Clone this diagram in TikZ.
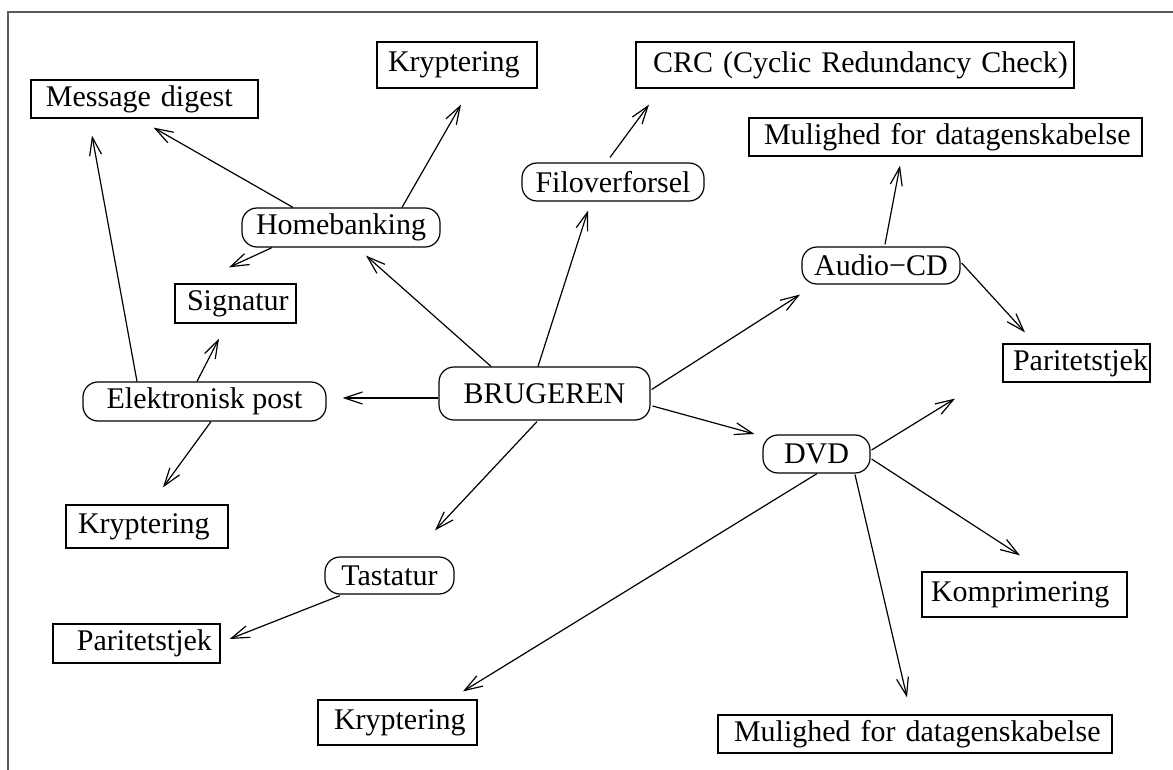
\documentclass[tikz,border=0pt]{standalone}
\usepackage{fontspec}
\setmainfont{Liberation Serif}
\usetikzlibrary{arrows.meta}
\begin{document}
\begin{tikzpicture}[x=0.5pt,y=-0.5pt,
  every node/.style={font=\fontsize{15}{18}\selectfont},
  bx/.style n args={3}{draw, line width=0.6pt, rectangle, inner sep=0pt, minimum height=#2, text width=#1, align=left, execute at begin node={\noindent\hspace*{#3}}},
  rb/.style n args={2}{draw, line width=0.6pt, rounded corners=7.5pt, inner sep=0pt, minimum width=#1, minimum height=#2},
  arr/.style={line width=0.6pt, -{Straight Barb[length=9pt,width=6pt]}},
  frame/.style={draw=black!65, line width=1pt}]
\useasboundingbox (0,0) rectangle (1173,770);
\draw[frame] (8,770) -- (8,12) -- (1173,12);

% rectangular boxes
\node[bx={113.5pt}{19pt}{7.5pt}] (md) at (144.5,99) {Message digest};
\node[bx={80pt}{23pt}{5.5pt}] (kr1) at (457,65) {Kryptering};
\node[bx={219pt}{23pt}{8.5pt}] (crc) at (855,65) {CRC (Cyclic Redundancy Check)};
\node[bx={196.5pt}{19pt}{7.5pt}] (mul1) at (945.5,137) {Mulighed for datagenskabelse};
\node[bx={60.5pt}{19.5pt}{6pt}] (sig) at (235.5,303.5) {Signatur};
\node[bx={73.5pt}{19pt}{5pt}] (par1) at (1076.5,363) {Paritetstjek};
\node[bx={81pt}{21.5pt}{6pt}] (kr2) at (147,526.5) {Kryptering};
\node[bx={83.5pt}{19.5pt}{12pt}] (par2) at (136.5,643.5) {Paritetstjek};
\node[bx={79.5pt}{22.5pt}{8pt}] (kr3) at (397.5,722.5) {Kryptering};
\node[bx={102.5pt}{22.5pt}{4.5pt}] (kom) at (1024.5,594.5) {Komprimering};
\node[bx={197pt}{19pt}{8pt}] (mul2) at (915,734) {Mulighed for datagenskabelse};

% rounded nodes
\node[rb={105.5pt}{26.5pt}] (brug) at (544.5,393.5) {BRUGEREN};
\node[rb={99pt}{19.5pt}] (hb) at (341,227.5) {Homebanking};
\node[rb={91pt}{19pt}] (fil) at (613,182) {Filoverforsel};
\node[rb={79pt}{18.5pt}] (acd) at (881,265.5) {Audio−CD};
\node[rb={121.5pt}{19.5pt}] (ep) at (204.5,401.5) {Elektronisk post};
\node[rb={53.5pt}{19pt}] (dvd) at (816.5,454) {DVD};
\node[rb={64.5pt}{18.5pt}] (tast) at (389.5,575.5) {Tastatur};

% connectors
\draw[arr] ([shift={(-48,0)}]hb.north) -- ([shift={(9,9)}]md.south);
\draw[arr] ([shift={(61,0)}]hb.north) -- ([shift={(4,16)}]kr1.south);
\draw[arr] ([shift={(-69,0)}]hb.south) -- ([shift={(-6.5,-16)}]sig.north);
\draw[arr] ([shift={(-53.5,0)}]brug.north) -- ([shift={(25,8)}]hb.south);
\draw[arr] ([shift={(-6.5,0)}]brug.north) -- ([shift={(-25,9)}]fil.south);
\draw[arr] ([shift={(-3,-5)}]fil.north) -- ([shift={(-206,16)}]crc.south);
\draw[arr] ([shift={(1,-4)}]brug.east) -- ([shift={(-81,10)}]acd.south);
\draw[arr] ([shift={(4,-2)}]acd.north) -- ([shift={(-45.5,9)}]mul1.south);
\draw[arr] ([shift={(1,-2.5)}]acd.east) -- ([shift={(-51.5,-11)}]par1.north);
\draw[arr] ([shift={(0,4.5)}]brug.west) -- ([shift={(16,-3.5)}]ep.east);
\draw[arr] ([shift={(2,12.5)}]brug.east) -- ([shift={(-8,-20)}]dvd.west);
\draw[arr] ([shift={(-7.5,1)}]brug.south) -- ([shift={(45.5,-26)}]tast.north);
\draw[arr] ([shift={(-67.5,0)}]ep.north) -- ([shift={(-52.5,17)}]md.south);
\draw[arr] ([shift={(-7.5,0)}]ep.north) -- ([shift={(-16.5,15)}]sig.south);
\draw[arr] ([shift={(6.5,0)}]ep.south) -- ([shift={(16,-17)}]kr2.north);
\draw[arr] ([shift={(1,-4)}]dvd.east) -- ([shift={(-121.5,16)}]par1.south);
\draw[arr] ([shift={(1,5)}]dvd.east) -- ([shift={(-4.5,-16)}]kom.north);
\draw[arr] ([shift={(38.5,1)}]dvd.south) -- ([shift={(-8,-17)}]mul2.north);
\draw[arr] ([shift={(0.5,0)}]dvd.south) -- ([shift={(65.5,-8)}]kr3.north);
\draw[arr] ([shift={(-49.5,1)}]tast.south) -- ([shift={(9,-4.5)}]par2.east);
\end{tikzpicture}
\end{document}
